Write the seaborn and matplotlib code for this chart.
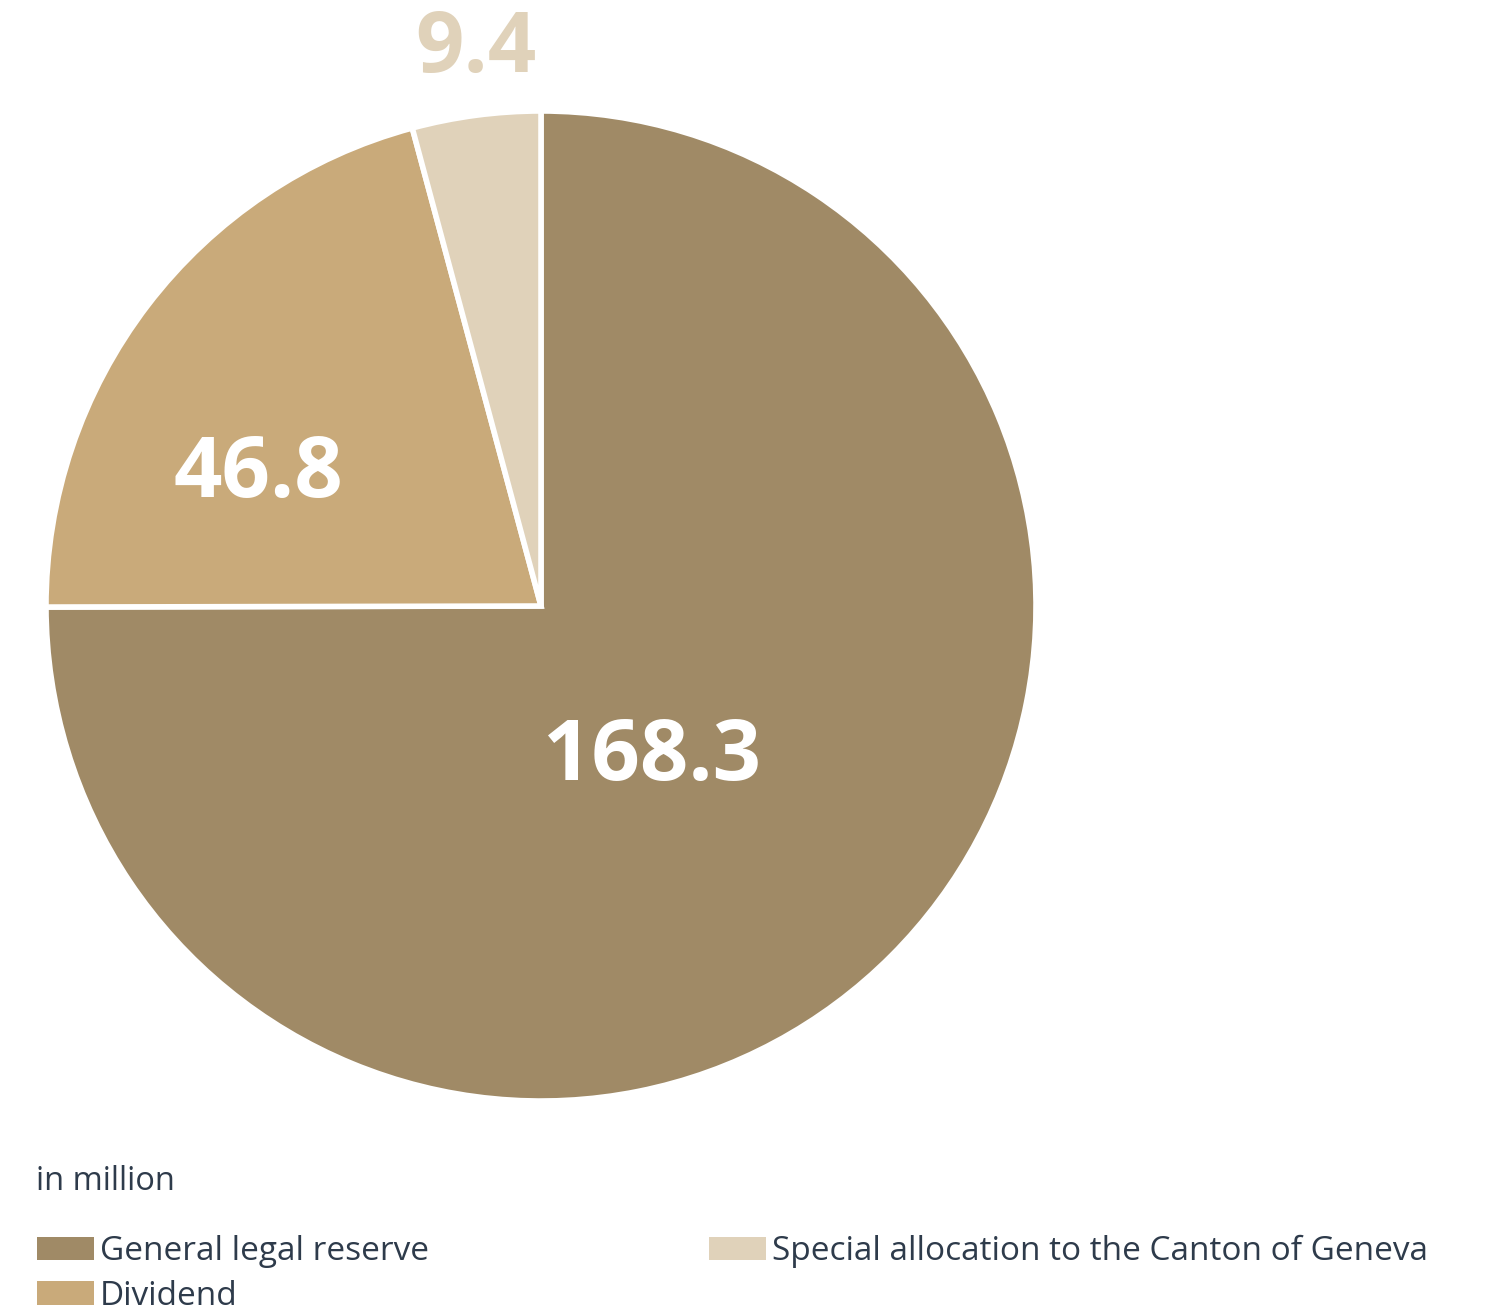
import matplotlib
matplotlib.use("Agg")
import matplotlib.pyplot as plt
import seaborn as sns
import numpy as np

categories = ["General legal reserve", "Dividend", "Special allocation to the Canton of Geneva"]
values = [168.3, 46.8, 9.4]
value_labels = ["168.3", "46.8", "9.4"]
colors = ["#A08A66", "#C9AA7A", "#E0D2BA"]
label_colors = ["white", "white", "#E0D2BA"]
# label placement (angle in degrees, distance as fraction of radius)
label_pos = [(-53.7, 0.38), (155.2, 0.63), (96.7, 1.13)]

sns.set_theme(style="white")
plt.rcParams["font.family"] = ["Open Sans", "DejaVu Sans"]

W, H = 1498, 1312
fig = plt.figure(figsize=(W / 100, H / 100), dpi=100)
ax = fig.add_axes([0, 0, 1, 1])

cx, cy, R = 541, H - 606, 495
wedges, _ = ax.pie(values, colors=colors, startangle=90, counterclock=False,
                   center=(cx, cy), radius=R, frame=True,
                   wedgeprops=dict(edgecolor="white", linewidth=4))
ax.set_xlim(0, W)
ax.set_ylim(0, H)
ax.set_aspect("equal")
ax.axis("off")

for lab, col, (ang, d) in zip(value_labels, label_colors, label_pos):
    a = np.deg2rad(ang)
    ax.text(cx + d * R * np.cos(a), cy + d * R * np.sin(a), lab, color=col,
            fontsize=61, fontweight="bold", ha="center", va="center")

text_color = "#2E3B4B"
fig.text(36 / W, 1 - 1181 / H, "in million", fontsize=23.5, color=text_color,
         ha="left", va="center")

leg = fig.legend(wedges, categories, loc="upper left",
                 bbox_to_anchor=(37 / W, 1 - 1235 / H), ncol=2, frameon=False,
                 fontsize=24, labelcolor=text_color, handlelength=1.71,
                 handleheight=0.72, handletextpad=0.18, columnspacing=8.4,
                 labelspacing=0.35, borderpad=0, borderaxespad=0)
for h in leg.legend_handles:
    h.set_edgecolor("none")

fig.savefig("out.png", dpi=100)
